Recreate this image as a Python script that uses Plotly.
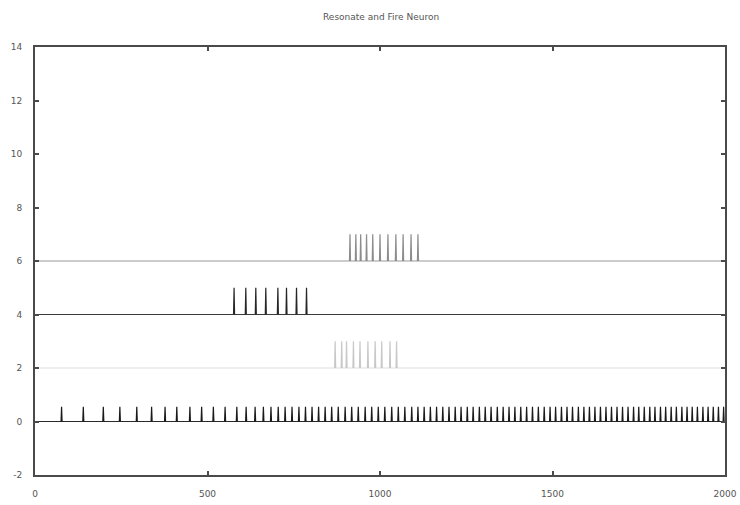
import plotly.graph_objects as go

# Spike times (ms) for each of the four neurons, stacked at offsets 0, 2, 4, 6
offsets = [0, 2, 4, 6]
spike_peaks = [0.55, 1.0, 1.0, 1.0]
trace_colors = ["#1a1a1a", "#c8c8c8", "#262626", "#8c8c8c"]
baseline_colors = ["#2a2a2a", "#dedede", "#3a3a3a", "#9a9a9a"]

spikes_n0 = [77, 140, 198, 246, 295, 338, 377, 411, 449, 483, 517, 551, 585, 612,
             638, 662, 684, 705, 725, 745, 765, 784, 803, 822, 841, 860, 879, 899,
             918, 937, 957, 976, 995, 1014, 1034, 1053, 1072, 1092, 1110, 1128,
             1146, 1164, 1182, 1200, 1218, 1235, 1253, 1270, 1288, 1305, 1322,
             1340, 1357, 1374, 1391, 1408, 1425, 1442, 1459, 1476, 1493, 1509,
             1526, 1542, 1558, 1575, 1591, 1607, 1623, 1639, 1655, 1671, 1687,
             1703, 1719, 1735, 1750, 1766, 1782, 1797, 1813, 1828, 1844, 1859,
             1875, 1890, 1905, 1920, 1936, 1951, 1966, 1981, 1996]
spikes_n1 = [870, 889, 903, 923, 942, 965, 986, 1005, 1029, 1048]
spikes_n2 = [577, 611, 640, 669, 704, 729, 758, 787]
spikes_n3 = [913, 930, 944, 961, 979, 1000, 1023, 1046, 1067, 1090, 1110]
all_spikes = [spikes_n0, spikes_n1, spikes_n2, spikes_n3]

t_end = 2000
x_ticks = [0, 500, 1000, 1500, 2000]
y_ticks = [-2, 0, 2, 4, 6, 8, 10, 12, 14]

fig = go.Figure()

for off, peak, spikes, col, bcol in zip(offsets, spike_peaks, all_spikes,
                                        trace_colors, baseline_colors):
    # resting baseline
    fig.add_trace(go.Scatter(x=[0, t_end], y=[off, off], mode="lines",
                             line=dict(color=bcol, width=1.2),
                             hoverinfo="skip", showlegend=False))
    # membrane spikes: rise to peak and return to rest
    xs, ys = [], []
    for t in spikes:
        xs += [t - 1.5, t, t + 1.5, None]
        ys += [off, off + peak, off, None]
    fig.add_trace(go.Scatter(x=xs, y=ys, mode="lines",
                             line=dict(color=col, width=1.2),
                             hoverinfo="skip", showlegend=False))

axis_font = dict(family="DejaVu Sans", size=9, color="#555555")

fig.update_layout(
    width=740, height=505,
    margin=dict(l=35, r=15, t=47, b=30),
    paper_bgcolor="white", plot_bgcolor="white",
    title=dict(text="Resonate and Fire Neuron", x=0.515, xanchor="center",
               y=0.966, yanchor="middle",
               font=dict(family="DejaVu Sans", size=9, color="#555555")),
    xaxis=dict(range=[0, t_end], tickvals=x_ticks, ticktext=[str(v) for v in x_ticks],
               showgrid=False, zeroline=False, showline=True, linewidth=2,
               linecolor="#4a4a4a", mirror="allticks", ticks="inside",
               ticklen=4, tickwidth=1.5, tickcolor="#4a4a4a", tickfont=axis_font,
               ticklabelstandoff=9, automargin=False),
    yaxis=dict(range=[-2, 14], tickvals=y_ticks, ticktext=[str(v) for v in y_ticks],
               showgrid=False, zeroline=False, showline=True, linewidth=2,
               linecolor="#4a4a4a", mirror="allticks", ticks="inside",
               ticklen=4, tickwidth=1.5, tickcolor="#4a4a4a", tickfont=axis_font,
               ticklabelstandoff=9, automargin=False),
)

fig.write_html("out.html")
